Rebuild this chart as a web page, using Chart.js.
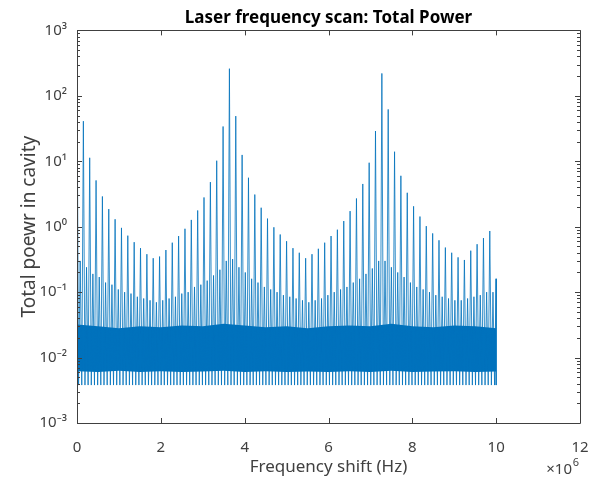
<!DOCTYPE html>
<html>
<head>
<meta charset="utf-8">
<script src="https://cdn.jsdelivr.net/npm/chart.js@4/dist/chart.umd.min.js"></script>
<style>
  html, body { margin: 0; padding: 0; background: #fff; }
  #wrap { width: 590px; height: 479px; }
</style>
</head>
<body>
<div id="wrap"><canvas id="scan"></canvas></div>
<script>
// resonance comb: frequency of each transmission peak (MHz) and its height
const spikeFreqMHz = [
  0.000, 0.152, 0.303, 0.455, 0.606, 0.758, 0.909, 1.061, 1.212, 1.364,
  1.515, 1.667, 1.818, 1.970, 2.121, 2.273, 2.424, 2.576, 2.727, 2.879,
  3.030, 3.182, 3.333, 3.485, 3.636, 3.788, 3.939, 4.091, 4.242, 4.394,
  4.545, 4.697, 4.848, 5.000, 5.152, 5.303, 5.455, 5.606, 5.758, 5.909,
  6.061, 6.212, 6.364, 6.515, 6.667, 6.818, 6.970, 7.121, 7.273, 7.424,
  7.576, 7.727, 7.879, 8.030, 8.182, 8.333, 8.485, 8.636, 8.788, 8.939,
  9.091, 9.242, 9.394, 9.545, 9.697, 9.848, 10.000
];
const spikePower = [
  200, 41, 11.3, 5.1, 2.9, 1.86, 1.3, 0.96, 0.73, 0.58,
  0.47, 0.38, 0.33, 0.35, 0.44, 0.57, 0.72, 0.93, 1.27, 1.77,
  2.8, 4.8, 10.2, 34, 260, 49, 12.5, 5.6, 3.1, 1.95,
  1.33, 0.98, 0.76, 0.6, 0.47, 0.4, 0.33, 0.38, 0.46, 0.57,
  0.72, 0.9, 1.22, 1.73, 2.7, 4.5, 9.5, 29, 220, 62,
  14, 6.0, 3.3, 2.05, 1.43, 1.02, 0.79, 0.62, 0.48, 0.4,
  0.34, 0.31, 0.43, 0.54, 0.67, 0.86, 0.16
];
// smaller side peak sitting between two neighbouring resonances
const sidePower = [
  0.3, 0.24, 0.19, 0.17, 0.14, 0.13, 0.11, 0.1, 0.095, 0.085,
  0.08, 0.075, 0.07, 0.075, 0.08, 0.085, 0.095, 0.1, 0.12, 0.13,
  0.15, 0.18, 0.22, 0.3, 0.32, 0.24, 0.2, 0.16, 0.14, 0.12,
  0.11, 0.1, 0.09, 0.085, 0.08, 0.075, 0.07, 0.075, 0.08, 0.09,
  0.1, 0.11, 0.12, 0.14, 0.16, 0.19, 0.23, 0.3, 0.3, 0.24,
  0.2, 0.17, 0.14, 0.12, 0.11, 0.1, 0.09, 0.085, 0.08, 0.075,
  0.075, 0.08, 0.085, 0.09, 0.1, 0.1
];
const noiseFloor = 0.0038;

// dense noise band underneath
const bandFreqMHz = [0, 0.5, 1, 1.5, 2, 2.5, 3, 3.5, 4, 4.5, 5, 5.5, 6, 6.5, 7, 7.5, 8, 8.5, 9, 9.5, 10];
const bandTop = [0.032, 0.03, 0.028, 0.03, 0.029, 0.031, 0.03, 0.033, 0.031, 0.029, 0.03, 0.028, 0.03, 0.031, 0.03, 0.033, 0.03, 0.029, 0.031, 0.03, 0.028];
const bandLow = [0.0062, 0.006, 0.0063, 0.006, 0.0062, 0.006, 0.0061, 0.0063, 0.006, 0.0062, 0.006, 0.0061, 0.006, 0.0062, 0.006, 0.0063, 0.006, 0.0061, 0.0062, 0.006, 0.0061];

const xTickValues = [0, 2e6, 4e6, 6e6, 8e6, 10e6, 12e6];
const xTickLabels = ['0', '2', '4', '6', '8', '10', '12'];
const yTickValues = [1e-3, 1e-2, 1e-1, 1e0, 1e1, 1e2, 1e3];
const yTickLabels = ['10\u207B\u00B3', '10\u207B\u00B2', '10\u207B\u00B9', '10\u2070', '10\u00B9', '10\u00B2', '10\u00B3'];

const lineColor = 'rgb(0, 114, 189)';
const axisColor = '#404040';
const font = '"Noto Sans", "Open Sans", sans-serif';

// build the scan trace: peak, drop to floor, side peak, floor, next peak
const scanPoints = [];
spikeFreqMHz.forEach((f, k) => {
  scanPoints.push({ x: f * 1e6, y: spikePower[k] });
  if (k < sidePower.length) {
    const step = (spikeFreqMHz[k + 1] - f) / 4;
    scanPoints.push({ x: (f + step) * 1e6, y: noiseFloor });
    scanPoints.push({ x: (f + 2 * step) * 1e6, y: sidePower[k] });
    scanPoints.push({ x: (f + 3 * step) * 1e6, y: noiseFloor });
  } else {
    scanPoints.push({ x: f * 1e6, y: noiseFloor });
  }
});
const bandTopPts = bandFreqMHz.map((f, i) => ({ x: f * 1e6, y: bandTop[i] }));
const bandLowPts = bandFreqMHz.map((f, i) => ({ x: f * 1e6, y: bandLow[i] }));

// matlab style box with inward ticks
const boxTicks = {
  id: 'boxTicks',
  afterDatasetsDraw(chart) {
    const { ctx, chartArea: a, scales } = chart;
    const px = v => Math.round(v) + 0.5;
    ctx.save();
    ctx.strokeStyle = axisColor;
    ctx.lineWidth = 1;
    ctx.beginPath();
    ctx.rect(px(a.left), px(a.top), Math.round(a.right) - Math.round(a.left), Math.round(a.bottom) - Math.round(a.top));
    xTickValues.forEach(v => {
      const x = px(scales.x.getPixelForValue(v));
      ctx.moveTo(x, a.bottom); ctx.lineTo(x, a.bottom - 5);
      ctx.moveTo(x, a.top); ctx.lineTo(x, a.top + 5);
    });
    for (let e = -3; e < 3; e++) {
      for (let m = 1; m < 10; m++) {
        const y = px(scales.y.getPixelForValue(m * Math.pow(10, e)));
        const len = m === 1 ? 5 : 3;
        ctx.moveTo(a.left, y); ctx.lineTo(a.left + len, y);
        ctx.moveTo(a.right, y); ctx.lineTo(a.right - len, y);
      }
    }
    const yTop = px(scales.y.getPixelForValue(1e3));
    ctx.moveTo(a.left, yTop); ctx.lineTo(a.left + 5, yTop);
    ctx.moveTo(a.right, yTop); ctx.lineTo(a.right - 5, yTop);
    ctx.stroke();
    // exponent of the x axis
    ctx.fillStyle = axisColor;
    ctx.textBaseline = 'alphabetic';
    ctx.textAlign = 'right';
    ctx.font = '15px ' + font;
    ctx.fillText('\u00D710', a.right - 8, 474);
    ctx.font = '11px ' + font;
    ctx.fillText('6', a.right - 1, 466);
    ctx.restore();
  }
};

new Chart(document.getElementById('scan'), {
  type: 'line',
  data: {
    datasets: [
      {
        data: scanPoints,
        borderColor: lineColor,
        borderWidth: 0.8,
        pointRadius: 0,
        fill: false,
        tension: 0,
        order: 0
      },
      {
        data: bandLowPts,
        borderWidth: 0,
        pointRadius: 0,
        fill: false,
        order: 2
      },
      {
        data: bandTopPts,
        borderWidth: 0,
        pointRadius: 0,
        backgroundColor: lineColor,
        fill: '-1',
        order: 1
      }
    ]
  },
  options: {
    responsive: true,
    maintainAspectRatio: false,
    animation: false,
    parsing: false,
    layout: { padding: { left: 0, right: 10, top: 0, bottom: 2 } },
    plugins: {
      legend: { display: false },
      tooltip: { enabled: false },
      title: {
        display: true,
        fullSize: false,
        text: 'Laser frequency scan: Total Power',
        color: '#000',
        font: { family: font, size: 17, weight: 'bold' },
        padding: { top: 8, bottom: 2 }
      }
    },
    scales: {
      x: {
        type: 'linear',
        min: 0,
        max: 12e6,
        afterBuildTicks: scale => { scale.ticks = xTickValues.map(v => ({ value: v })); },
        afterFit: scale => {
          scale.height = 54;
          scale.paddingLeft = 0;
          scale.paddingRight = 0;
        },
        grid: { display: false },
        border: { display: false },
        ticks: {
          color: axisColor,
          font: { family: font, size: 15 },
          padding: 8,
          maxRotation: 0,
          autoSkip: false,
          callback: (v, i) => xTickLabels[i]
        },
        title: {
          display: true,
          text: 'Frequency shift (Hz)',
          color: axisColor,
          font: { family: font, size: 17 },
          padding: { top: 0, bottom: 0 }
        }
      },
      y: {
        type: 'logarithmic',
        min: 1e-3,
        max: 1e3,
        afterBuildTicks: scale => { scale.ticks = yTickValues.map(v => ({ value: v })); },
        afterFit: scale => { scale.width = 77; },
        grid: { display: false },
        border: { display: false },
        ticks: {
          color: axisColor,
          font: { family: font, size: 15 },
          padding: 2,
          autoSkip: false,
          callback: (v, i) => yTickLabels[i]
        },
        title: {
          display: true,
          text: 'Total poewr in cavity',
          color: axisColor,
          font: { family: font, size: 19 },
          padding: { top: 18, bottom: 0 }
        }
      }
    }
  },
  plugins: [boxTicks]
});
</script>
</body>
</html>
